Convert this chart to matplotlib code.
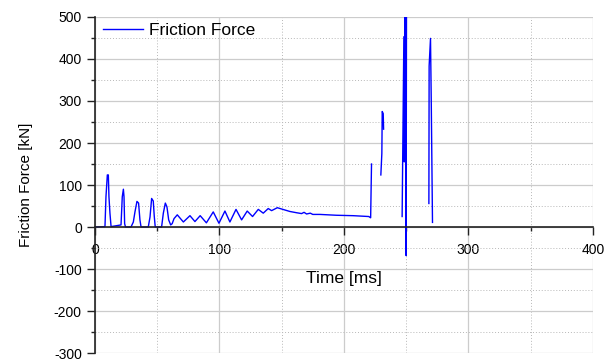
import numpy as np
import matplotlib.pyplot as plt
from matplotlib.ticker import MultipleLocator

plt.rcParams['font.family'] = ['Liberation Sans', 'DejaVu Sans']
plt.rcParams['axes.unicode_minus'] = False

nan = np.nan

# time [ms] and friction force [kN] (nan = gap in the line)
time_ms = [0, 8.0, 8.8, 9.9, 10.7, 11.2, 12.0, 12.9,
           20.9, 21.9, 22.8, 23.3, 23.8, 24.5,
           28.9, 30.8, 32.1, 33.7, 35.0, 36.1, 37.0,
           42.8, 44.2, 45.5, 46.8, 47.6, 48.4,
           53.5, 54.9, 56.5, 57.8, 59.2, 60.8, 62.0, 63.5,
           66.1, 71.0, 76.3, 80.3, 84.5, 89.5, 95.0, 99.6, 104.4, 108.4,
           113.3, 117.8, 122.3, 126.6, 131.2, 135.2, 139.2, 141.9, 146.5, 148.7,
           156.6, 162.0, 166.0, 168.0, 170.0, 173.0, 175.0, 180.7, 194.0, 207.5,
           220.0, 221.5, 222.2, nan,
           229.7, 230.5, 230.8, 231.6, 231.9, nan,
           246.8, 248.2, 248.5, 249.0, 249.3, 249.6, 250.0, 250.3, nan,
           268.3, 268.5, 269.6, 270.2, 271.2]
force_kn = [0, 1, 72, 124, 124, 72, 33, 1,
            5, 72, 90, 72, 8, 0,
            0, 12, 36, 61, 57, 17, 0,
            0, 24, 68, 62, 26, 0,
            0, 33, 57, 48, 17, 5, 8, 20,
            29, 12, 27, 13, 27, 10, 36, 9, 38, 12,
            42, 17, 38, 25, 42, 33, 44, 39, 46, 44,
            37, 34, 32, 35, 31, 33, 30, 30, 28, 27,
            25, 22, 150, nan,
            124, 175, 275, 270, 233, nan,
            25, 453, 155, 510, 160, 510, -68, 510, nan,
            56, 383, 449, 300, 11]

fig = plt.figure(figsize=(6.13, 3.61), dpi=100)
ax = fig.add_axes([0.155, 0.022, 0.812, 0.931])

ax.plot(time_ms, force_kn, color='blue', lw=1.0, label='Friction Force', zorder=2)

ax.set_xlim(0, 400)
ax.set_ylim(-300, 500)
ax.xaxis.set_major_locator(MultipleLocator(100))
ax.xaxis.set_minor_locator(MultipleLocator(50))
ax.yaxis.set_major_locator(MultipleLocator(100))
ax.yaxis.set_minor_locator(MultipleLocator(50))

ax.grid(which='major', color='#cccccc', lw=0.9, ls='-')
ax.grid(which='minor', color='#b8b8b8', lw=0.7, ls=(0, (1, 2)))
ax.set_axisbelow(True)

for s in ['top', 'right']:
    ax.spines[s].set_visible(False)
ax.spines['bottom'].set_position(('data', 0))
for s in ['left', 'bottom']:
    ax.spines[s].set_linewidth(1.2)
    ax.spines[s].set_color('#222222')
    ax.spines[s].set_zorder(3)

ax.tick_params(which='major', length=5.5, width=1.0, color='#222222',
               labelsize=10, pad=4)
ax.tick_params(which='minor', length=3, width=1.0, color='#222222')
ax.tick_params(axis='x', which='major', pad=6)

ax.set_xlabel('Time [ms]', fontsize=12.5)
ax.xaxis.set_label_coords(0.5, 0.245)
ax.set_ylabel('Friction Force [kN]', fontsize=11)
ax.yaxis.set_label_coords(-0.125, 0.5)

ax.legend(loc='upper left', bbox_to_anchor=(0.016, 0.982), frameon=False,
          fontsize=12.5, handlelength=2.3, handletextpad=0.35,
          borderpad=0, borderaxespad=0)

plt.savefig('out.png', dpi=100)
